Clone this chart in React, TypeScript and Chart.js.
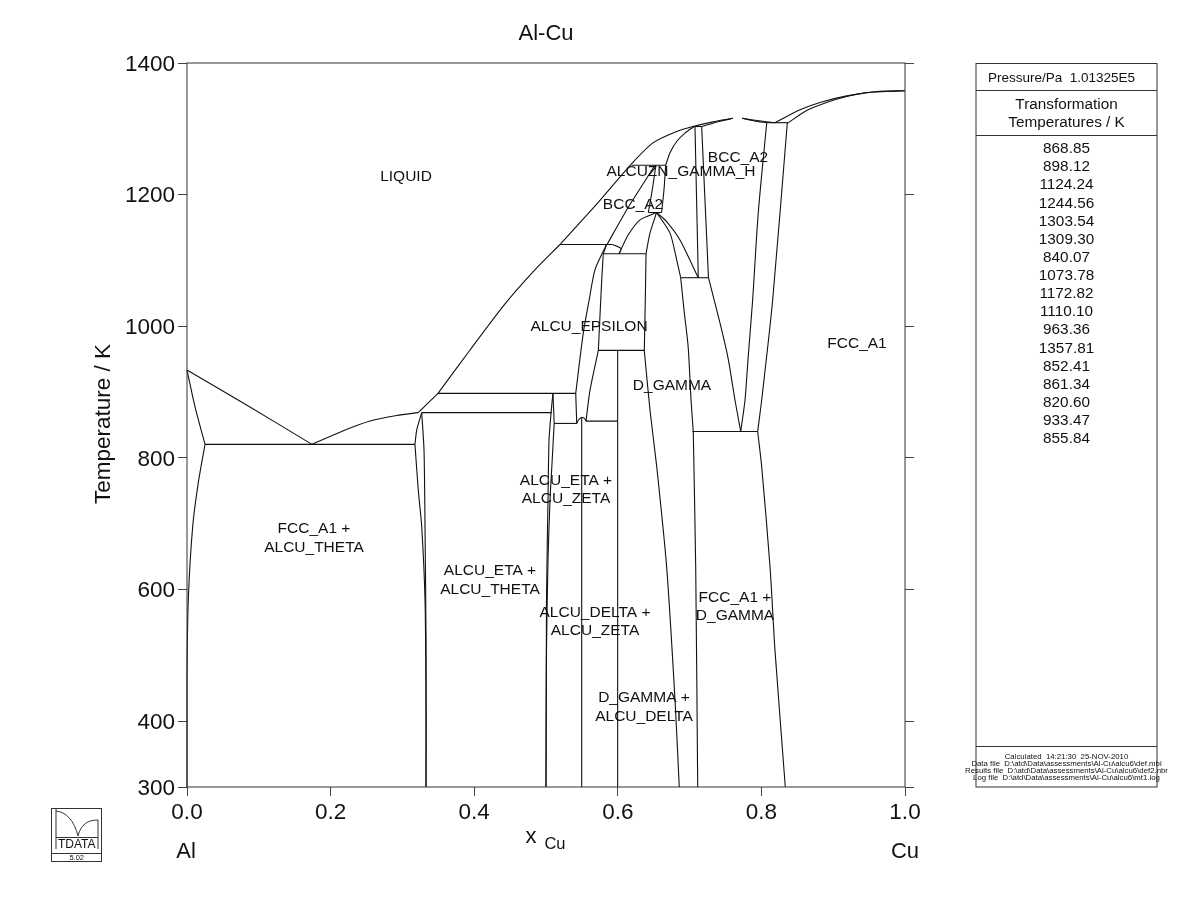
import React, { useEffect, useRef } from "react";
import { Chart, registerables } from "chart.js";

Chart.register(...registerables);

type Pt = [number, number];

// Axis ticks
const yTickValues = [300, 400, 600, 800, 1000, 1200, 1400];

// Liquidus
const liquidusAlSide: Pt[] = [[0, 933.47], [0.083, 880.5], [0.174, 820.6]];
const liquidusThetaSide: Pt[] = [[0.174, 820.6], [0.217, 841], [0.255, 856], [0.292, 864.5], [0.322, 868.85]];
const liquidusLowerStep: Pt[] = [[0.322, 868.85], [0.3496, 898.12]];
const liquidusEpsilon: Pt[] = [[0.3496, 898.12], [0.3942, 964], [0.4429, 1034], [0.4819, 1082.7], [0.5195, 1124.24]];
const liquidusBcc: Pt[] = [[0.5195, 1124.24], [0.5696, 1184.5], [0.6198, 1247.6], [0.649, 1278.7], [0.682, 1295.9], [0.7047, 1303.5], [0.7326, 1310.6], [0.76, 1316]];
const liquidusBccRight: Pt[] = [[0.773, 1316], [0.791, 1313], [0.8189, 1309.3]];
const liquidusFcc: Pt[] = [[0.8189, 1309.3], [0.8538, 1328.9], [0.8816, 1340], [0.9188, 1350], [0.9606, 1356.7], [1, 1357.81]];
const solidusBccLeft: Pt[] = [[0.7168, 1303.54], [0.7423, 1311.4], [0.7604, 1316]];
const solidusBccMid: Pt[] = [[0.773, 1316], [0.79, 1312], [0.8074, 1309.3]];
const solidusFcc: Pt[] = [[0.8375, 1309.3], [0.8631, 1327.8], [0.8909, 1340], [0.9188, 1349], [0.9467, 1355], [0.9745, 1356.6], [1, 1357.81]];

// Al-rich side
const fccAlUpper: Pt[] = [[0, 933.47], [0.0111, 878], [0.0251, 820.6]];
const fccAlLower: Pt[] = [[0.0251, 820.6], [0.0157, 762], [0.0079, 695.6], [0.0018, 584], [0, 462], [0, 300]];
const thetaLeftUpper: Pt[] = [[0.3269, 868.85], [0.32, 842.6], [0.3175, 820.6]];
const thetaLeftLower: Pt[] = [[0.3175, 820.6], [0.3221, 751], [0.3269, 695.6], [0.3315, 584], [0.3329, 432], [0.3329, 300]];
const thetaRight: Pt[] = [[0.3269, 868.85], [0.3301, 812], [0.3315, 695.6], [0.3329, 523], [0.3329, 300]];

// Eta
const etaLeft: Pt[] = [[0.5097, 898.12], [0.507, 868], [0.5042, 827], [0.5028, 736], [0.5007, 584], [0.5, 300]];
const etaRightUpper: Pt[] = [[0.5097, 898.12], [0.5114, 852.41]];
const etaRightLower: Pt[] = [[0.5114, 852.41], [0.5079, 782], [0.5056, 736], [0.5028, 645], [0.5007, 508], [0.5, 300]];
const zetaArc: Pt[] = [[0.5428, 852.41], [0.5455, 858], [0.5497, 861.34], [0.5535, 860], [0.5557, 855.84]];

// Epsilon
const epsilonLeftUpper: Pt[] = [[0.5843, 1124.24], [0.5682, 1085.7], [0.5603, 1041], [0.5519, 989.5], [0.5414, 898.12]];
const epsilonLeftLower: Pt[] = [[0.5414, 898.12], [0.5428, 852.41]];
const epsilonRightUpper: Pt[] = [[0.5843, 1124.24], [0.5798, 1110.1]];
const epsilonRightMid: Pt[] = [[0.5798, 1110.1], [0.5776, 1070.5], [0.5729, 963.36]];
const epsilonRightLower: Pt[] = [[0.5729, 963.36], [0.5613, 903], [0.5557, 855.84]];
const epsilonCap: Pt[] = [[0.5926, 1124.24], [0.6045, 1118], [0.6017, 1110.1]];

// Gamma-H and the dome
const gammaHLeft: Pt[] = [[0.585, 1124.24], [0.6142, 1180], [0.6518, 1244.56]];
const gammaHMid: Pt[] = [[0.653, 1244.56], [0.648, 1207], [0.6425, 1172.82]];
const gammaHRight: Pt[] = [[0.6667, 1244.56], [0.6643, 1207], [0.661, 1172.82]];
const bccUpperLeft: Pt[] = [[0.6667, 1244.56], [0.6727, 1263.5], [0.682, 1280.7], [0.6936, 1293.5], [0.7065, 1303.54]];
const domeLeft: Pt[] = [[0.654, 1172.82], [0.631, 1161.7], [0.6146, 1139], [0.6017, 1110.1]];
const domeRight: Pt[] = [[0.654, 1172.82], [0.668, 1159], [0.6866, 1131], [0.712, 1073.78]];
const dGammaLeftUpper: Pt[] = [[0.654, 1172.82], [0.6448, 1141.5], [0.6393, 1110.1]];
const dGammaLeftMid: Pt[] = [[0.6393, 1110.1], [0.6383, 1040], [0.6369, 963.36]];
const dGammaLeftLower: Pt[] = [[0.6369, 963.36], [0.6448, 873], [0.6542, 786.8], [0.668, 634.8], [0.6797, 432], [0.6856, 300]];
const dGammaRightUpper: Pt[] = [[0.654, 1172.82], [0.6727, 1141.5], [0.682, 1101], [0.6876, 1073.78]];
const dGammaRightMid: Pt[] = [[0.6876, 1073.78], [0.6922, 1025], [0.698, 969], [0.702, 888], [0.7051, 840.07]];
const dGammaRightLower: Pt[] = [[0.7051, 840.07], [0.7085, 634.8], [0.7113, 300]];

// BCC wedge and Cu-rich side
const wedgeLeft: Pt[] = [[0.7075, 1303.54], [0.7121, 1073.78]];
const wedgeRight: Pt[] = [[0.7168, 1303.54], [0.7263, 1073.78]];
const bccLowerLeft: Pt[] = [[0.7263, 1073.78], [0.7423, 1005], [0.7535, 952], [0.7632, 888], [0.7712, 840.07]];
const bccLowerRight: Pt[] = [[0.7712, 840.07], [0.7772, 888], [0.7813, 949], [0.7878, 1040], [0.7956, 1172], [0.8074, 1309.3]];
const fccUpper: Pt[] = [[0.8361, 1309.3], [0.8157, 1040], [0.8004, 888], [0.7948, 840.07]];
const fccLower: Pt[] = [[0.7948, 840.07], [0.8004, 786.8], [0.812, 634.8], [0.8189, 508], [0.8333, 300]];

// Isotherms: temperature, from x, to x
const isotherms: [number, number, number][] = [
  [820.6, 0.0251, 0.3175],
  [868.85, 0.3269, 0.508],
  [898.12, 0.3496, 0.5414],
  [852.41, 0.5111, 0.5428],
  [855.84, 0.5557, 0.5998],
  [840.07, 0.7038, 0.7948],
  [963.36, 0.5729, 0.6369],
  [1073.78, 0.6876, 0.7263],
  [1110.1, 0.5798, 0.6393],
  [1124.24, 0.5195, 0.5926],
  [1172.82, 0.6425, 0.661],
  [1244.56, 0.6195, 0.6667],
  [1303.54, 0.7065, 0.7168],
  [1309.3, 0.8074, 0.8375],
];

// Stoichiometric phases: x, from T, to T
const verticals: [number, number, number][] = [
  [0.5497, 300, 861.34],
  [0.5998, 300, 963.36],
];

const curves: Pt[][] = [
  liquidusAlSide, liquidusThetaSide, liquidusLowerStep, liquidusEpsilon, liquidusBcc, liquidusBccRight, liquidusFcc,
  solidusBccLeft, solidusBccMid, solidusFcc, fccAlUpper, fccAlLower, thetaLeftUpper, thetaLeftLower, thetaRight,
  etaLeft, etaRightUpper, etaRightLower, zetaArc, epsilonLeftUpper, epsilonLeftLower, epsilonRightUpper,
  epsilonRightMid, epsilonRightLower, epsilonCap, gammaHLeft, gammaHMid, gammaHRight, bccUpperLeft, domeLeft,
  domeRight, dGammaLeftUpper, dGammaLeftMid, dGammaLeftLower, dGammaRightUpper, dGammaRightMid, dGammaRightLower,
  wedgeLeft, wedgeRight, bccLowerLeft, bccLowerRight, fccUpper, fccLower,
];

// Phase labels
const phaseLabels: [string, number, number][] = [
  ["LIQUID", 406, 176],
  ["ALCUZN_GAMMA_H", 681, 171],
  ["BCC_A2", 738, 157],
  ["BCC_A2", 633, 204],
  ["ALCU_EPSILON", 589, 326],
  ["FCC_A1", 857, 343],
  ["D_GAMMA", 672, 385],
  ["ALCU_ETA +", 566, 480],
  ["ALCU_ZETA", 566, 498],
  ["FCC_A1 +", 314, 528],
  ["ALCU_THETA", 314, 547],
  ["ALCU_ETA +", 490, 570],
  ["ALCU_THETA", 490, 589],
  ["ALCU_DELTA +", 595, 612],
  ["ALCU_ZETA", 595, 630],
  ["FCC_A1 +", 735, 597],
  ["D_GAMMA", 735, 615],
  ["D_GAMMA +", 644, 697],
  ["ALCU_DELTA", 644, 716],
];

const transformationTemperatures = [
  "868.85", "898.12", "1124.24", "1244.56", "1303.54", "1309.30", "840.07", "1073.78", "1172.82",
  "1110.10", "963.36", "1357.81", "852.41", "861.34", "820.60", "933.47", "855.84",
];

const footerLines = [
  "Calculated  14:21:30  25-NOV-2010",
  "Data file  D:\\atd\\Data\\assessments\\Al-Cu\\alcu6\\def.mbi",
  "Results file  D:\\atd\\Data\\assessments\\Al-Cu\\alcu6\\def2.nbr",
  "Log file  D:\\atd\\Data\\assessments\\Al-Cu\\alcu6\\mt1.log",
];

const FONT = '"Liberation Sans", Arial, sans-serif';
const INK = "#111";

const decorations = {
  id: "decorations",
  afterDraw(chart: any) {
    const { ctx, chartArea: a } = chart;
    const text = (s: string, x: number, y: number, size: number, align: CanvasTextAlign = "center") => {
      ctx.font = `${size}px ${FONT}`;
      ctx.textAlign = align;
      ctx.textBaseline = "middle";
      ctx.fillStyle = INK;
      ctx.fillText(s, x, y + 1);
    };
    const seg = (pts: number[][], w = 1, color = "#222") => {
      ctx.beginPath();
      ctx.lineWidth = w;
      ctx.strokeStyle = color;
      pts.forEach((p, i) => (i ? ctx.lineTo(p[0], p[1]) : ctx.moveTo(p[0], p[1])));
      ctx.stroke();
    };
    ctx.save();

    // plot frame
    ctx.strokeStyle = "#333";
    ctx.lineWidth = 1;
    ctx.strokeRect(a.left, a.top, a.right - a.left, a.bottom - a.top);

    for (const [s, x, y] of phaseLabels) text(s, x, y, 15.5);

    text("Al-Cu", 546, 33, 22);
    text("x", 531, 836, 22);
    text("Cu", 555, 843, 16.5);
    text("Al", 186, 851, 22);
    text("Cu", 905, 851, 22);

    ctx.save();
    ctx.translate(103, 424);
    ctx.rotate(-Math.PI / 2);
    text("Temperature / K", 0, 0, 22.5);
    ctx.restore();

    // side panel
    const L = 976, R = 1157;
    ctx.strokeStyle = "#333";
    ctx.lineWidth = 1;
    ctx.strokeRect(L, 63.5, R - L, 723.5);
    for (const y of [90.5, 135.5, 746.5]) seg([[L, y], [R, y]], 1, "#333");
    const cx = (L + R) / 2;
    text("Pressure/Pa  1.01325E5", cx - 5, 77, 13.5);
    text("Transformation", cx, 104, 15.3);
    text("Temperatures / K", cx, 122, 15.3);
    transformationTemperatures.forEach((v, i) => text(v, cx, 148 + i * 18.12, 15.3));
    footerLines.forEach((v, i) => text(v, cx, 755.5 + i * 7, 7.8));

    // logo
    ctx.strokeStyle = "#333";
    ctx.strokeRect(51.5, 808.5, 50, 53);
    seg([[51.5, 853.5], [101.5, 853.5]], 1, "#333");
    seg([[56, 809], [56, 849]], 1, "#333");
    seg([[98, 820], [98, 849]], 1, "#333");
    seg([[56, 837.5], [98, 837.5]], 1, "#333");
    ctx.beginPath();
    ctx.lineWidth = 1;
    ctx.moveTo(56, 811);
    ctx.bezierCurveTo(66, 812, 74, 820, 78, 836);
    ctx.moveTo(78, 836);
    ctx.bezierCurveTo(81, 824, 88, 820, 98, 820);
    ctx.stroke();
    text("TDATA", 76.7, 844, 12);
    text("5.02", 76.7, 857, 7.5);

    ctx.restore();
  },
};

export default function App() {
  const ref = useRef<HTMLCanvasElement>(null);

  useEffect(() => {
    const curveSets = curves.map((pts) => ({
      data: pts.map(([x, y]) => ({ x, y })),
      tension: pts.length > 2 ? 0.25 : 0,
    }));
    const isoSets = isotherms.map(([t, x0, x1]) => ({
      data: [{ x: x0, y: t }, { x: x1, y: t }],
      tension: 0,
    }));
    const vertSets = verticals.map(([x, t0, t1]) => ({
      data: [{ x, y: t0 }, { x, y: t1 }],
      tension: 0,
    }));
    const datasets = [...curveSets, ...isoSets, ...vertSets].map((d) => ({
      ...d,
      showLine: true,
      borderColor: INK,
      borderWidth: 1.1,
      pointRadius: 0,
      pointHoverRadius: 0,
      fill: false,
      clip: false as any,
    }));

    const setTicks = (s: any) => {
      s.ticks = yTickValues.map((value) => ({ value }));
    };
    const tickGrid = { drawOnChartArea: false, drawTicks: true, tickLength: 9, color: "#444", lineWidth: 1 };

    const chart = new Chart(ref.current!, {
      type: "scatter",
      data: { datasets },
      options: {
        animation: false,
        responsive: false,
        devicePixelRatio: 1,
        layout: { padding: { top: 63, left: 0, right: 0, bottom: 0 } },
        plugins: { legend: { display: false }, tooltip: { enabled: false }, title: { display: false } },
        scales: {
          x: {
            type: "linear",
            min: 0,
            max: 1,
            position: "bottom",
            border: { display: false },
            grid: tickGrid,
            ticks: {
              stepSize: 0.2,
              padding: 3,
              maxRotation: 0,
              color: INK,
              font: { family: FONT, size: 22.5 },
              callback: (v: any) => Number(v).toFixed(1),
            },
            afterFit: (s: any) => { s.height = 136; },
          },
          y: {
            type: "linear",
            min: 300,
            max: 1400,
            position: "left",
            border: { display: false },
            grid: tickGrid,
            afterBuildTicks: setTicks,
            ticks: {
              autoSkip: false,
              padding: 3,
              labelOffset: 1.5,
              color: INK,
              font: { family: FONT, size: 22.5 },
              callback: (v: any) => String(v),
            },
            afterFit: (s: any) => { s.width = 187; },
          },
          yr: {
            type: "linear",
            min: 300,
            max: 1400,
            position: "right",
            border: { display: false },
            grid: tickGrid,
            afterBuildTicks: setTicks,
            ticks: { autoSkip: false, callback: () => "" },
            afterFit: (s: any) => { s.width = 295; },
          },
        },
      } as any,
      plugins: [decorations],
    });
    return () => chart.destroy();
  }, []);

  return (
    <canvas
      ref={ref}
      width={1200}
      height={923}
      style={{ position: "absolute", left: 0, top: 0, display: "block" }}
    />
  );
}
